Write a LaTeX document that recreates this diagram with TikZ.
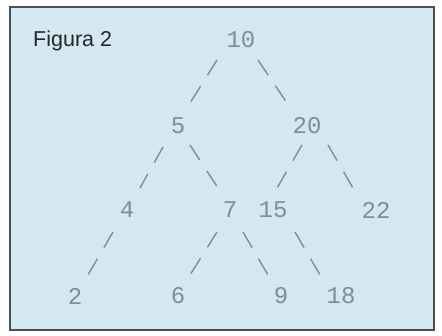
\documentclass[tikz,border=0pt]{standalone}
\usepackage{fontspec}
\setmainfont{Liberation Sans}
\newfontfamily\numfont{Liberation Mono}
\usepackage{xcolor}
\usetikzlibrary{calc}

\definecolor{paneblue}{HTML}{D3E8F2}
\definecolor{framegrey}{HTML}{4A4F52}
\definecolor{keygrey}{HTML}{7F8E95}

\begin{document}
\begin{tikzpicture}[
  x=1pt,y=-1pt,
  key/.style={inner sep=0pt,text=keygrey,font=\numfont\fontsize{24}{24}\selectfont},
  edge/.style={draw=keygrey,line width=1.4pt,dash pattern=on 18pt off 13pt}
]
\useasboundingbox (0,0) rectangle (442,336);
\draw[framegrey,line width=1.6pt,fill=paneblue] (10,7) rectangle (434,330);
\node[anchor=base west,inner sep=0pt,text=black!85,font=\fontsize{21.5}{21.5}\selectfont] (title) at (33,47) {Figura 2};
% keys of the tree
\node[key] (n10) at (241,40) {10};
\node[key] (n5) at (178,126) {5};
\node[key] (n20) at (307,126) {20};
\node[key] (n4) at (127,210) {4};
\node[key] (n7) at (230,210) {7};
\node[key] (n15) at (273,210) {15};
\node[key] (n22) at (376,210) {22};
\node[key] (n2) at (75,296) {2};
\node[key] (n6) at (178,296) {6};
\node[key] (n9) at (281,296) {9};
\node[key] (n18) at (341,296) {18};
% links
\draw[edge] ($(n10)+(-24,20)$) -- ($(n5)+(12,-23)$);
\draw[edge] ($(n10)+(17,20)$) -- ($(n20)+(-20,-23)$);
\draw[edge] ($(n5)+(-15,21)$) -- ($(n4)+(13,-22)$);
\draw[edge] ($(n5)+(12,19)$) -- ($(n7)+(-12,-22)$);
\draw[edge] ($(n20)+(-5,19)$) -- ($(n15)+(4,-22)$);
\draw[edge] ($(n20)+(21,19)$) -- ($(n22)+(-23,-22)$);
\draw[edge] ($(n4)+(-14,22)$) -- ($(n2)+(13,-21)$);
\draw[edge] ($(n7)+(-13,22)$) -- ($(n6)+(12,-21)$);
\draw[edge] ($(n7)+(13,22)$) -- ($(n9)+(-13,-21)$);
\draw[edge] ($(n15)+(22,22)$) -- ($(n18)+(-21,-21)$);
\end{tikzpicture}
\end{document}
